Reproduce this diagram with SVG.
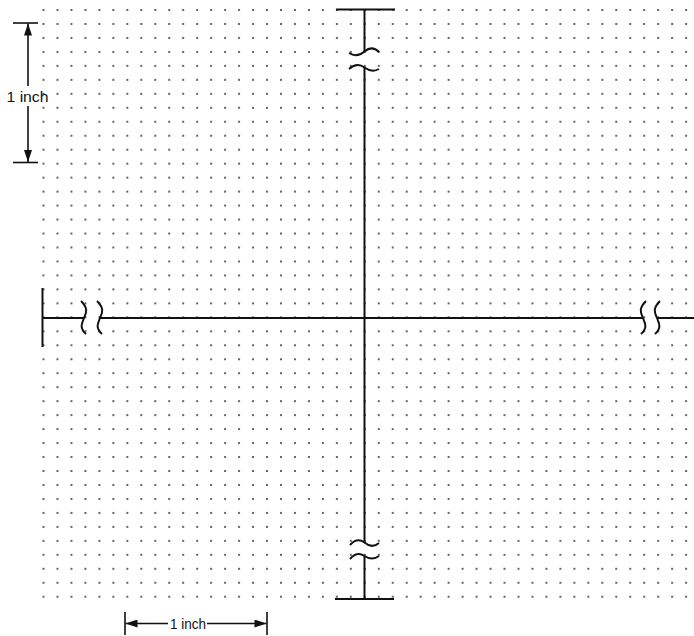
<svg xmlns="http://www.w3.org/2000/svg" width="694" height="636" viewBox="0 0 694 636">
<style>
.ax{stroke:#111;stroke-width:2;fill:none;stroke-linecap:butt}
.brk{stroke:#111;stroke-width:2;fill:none}
.dim{stroke:#111;stroke-width:1.6;fill:none}
.lbl{font-family:"Liberation Sans",Arial,sans-serif;fill:#111}
</style>
<defs>
<pattern id="dots" patternUnits="userSpaceOnUse" x="36.515" y="3.015" width="13.97" height="13.97">
<circle cx="6.985" cy="6.985" r="0.95" fill="#222"/>
</pattern>
<marker id="ah" viewBox="0 0 12 8" refX="12" refY="4" markerWidth="13" markerHeight="8" markerUnits="userSpaceOnUse" orient="auto">
<path d="M0,0 L12,4 L0,8 Z" fill="#111"/>
</marker>
</defs>
<rect id="grid" x="36.5" y="3" width="657" height="601" fill="url(#dots)"/>
<g id="connectors">
<g id="vertical-axis">
<line class="ax" x1="336" y1="9.5" x2="395" y2="9.5"/>
<line class="ax" x1="364.5" y1="9.5" x2="364.5" y2="51"/>
<path class="brk" d="M349,53 Q357,58 364.5,51.5 Q372,45 379,52"/>
<path class="brk" d="M349,69 Q357,62 364.5,67.5 Q372,73 379,69"/>
<line class="ax" x1="364.5" y1="67.5" x2="364.5" y2="543"/>
<path class="brk" d="M350,545 Q357,537 364.5,542.5 Q372,549 379,543"/>
<path class="brk" d="M350,559 Q357,551 364.5,556 Q372,561 379,556"/>
<line class="ax" x1="364.5" y1="556" x2="364.5" y2="599"/>
<line class="ax" x1="335" y1="599" x2="394" y2="599"/>
</g>
<g id="horizontal-axis">
<line class="ax" x1="42.5" y1="288" x2="42.5" y2="347"/>
<line class="ax" x1="42.5" y1="318" x2="84" y2="318"/>
<path class="brk" d="M81,301 C89,309 86,313 84,318 C82,323 79,328 86,334"/>
<path class="brk" d="M97,301 C105,309 102,313 100,318 C98,323 95,328 102,334"/>
<line class="ax" x1="100" y1="318" x2="643" y2="318"/>
<path class="brk" d="M646,301 C638,309 641,313 643,318 C645,323 648,328 641,334"/>
<path class="brk" d="M660,301 C652,309 655,313 657,318 C659,323 662,328 655,334"/>
<line class="ax" x1="657" y1="318" x2="694" y2="318"/>
</g>
<g id="dim-vertical">
<line class="dim" x1="13" y1="23" x2="38" y2="23"/>
<line class="dim" x1="13" y1="162.5" x2="38" y2="162.5"/>
<line class="dim" x1="28" y1="86" x2="28" y2="23.5" marker-end="url(#ah)"/>
<line class="dim" x1="28" y1="106" x2="28" y2="162" marker-end="url(#ah)"/>
</g>
<g id="dim-horizontal">
<line class="dim" x1="125" y1="612" x2="125" y2="635"/>
<line class="dim" x1="267" y1="612" x2="267" y2="635"/>
<line class="dim" x1="168" y1="623.5" x2="125.5" y2="623.5" marker-end="url(#ah)"/>
<line class="dim" x1="207" y1="623.5" x2="266.5" y2="623.5" marker-end="url(#ah)"/>
</g>
</g>
<g id="label-vertical"><text class="lbl" x="6.5" y="102" font-size="15" textLength="42" lengthAdjust="spacingAndGlyphs">1 inch</text></g>
<g id="label-horizontal"><text class="lbl" x="170" y="628.5" font-size="14.5" textLength="36" lengthAdjust="spacingAndGlyphs">1 inch</text></g>
</svg>
